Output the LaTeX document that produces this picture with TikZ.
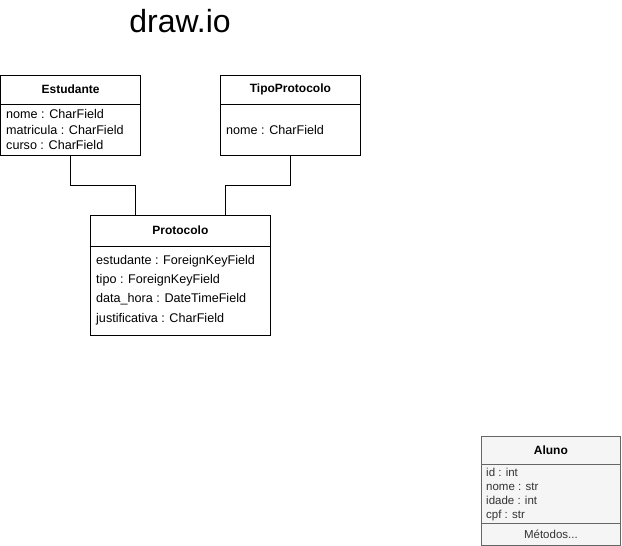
\documentclass[tikz,border=0pt]{standalone}
\usepackage{fontspec}
\setmainfont{Liberation Sans}
\usepackage{tikz}
\usetikzlibrary{positioning}
\definecolor{alunofill}{HTML}{F5F5F5}
\definecolor{alunoline}{HTML}{666666}
\definecolor{alunotext}{HTML}{333333}

\begin{document}
\begin{tikzpicture}[
		x=1pt, y=-1pt
		,every node/.append style={inner sep=0pt}
		,cls/.style={draw, line width=.8pt, anchor=north west, minimum width=#1}
		,ttl/.style={font=\fontsize{12}{14}\bfseries}
		,fld/.style={anchor=west, align=left, font=\fontsize{12.6}{#1}\selectfont}
		,sep/.style={line width=.8pt}
		,gray/.style={fill=alunofill, draw=alunoline, text=alunotext}
	]
		\useasboundingbox (0,0) rectangle (622,546);
		\node [font=\fontsize{32}{36}\selectfont] (title) at (180,21) {draw.io};
		% Estudante
		\node [cls=139.5pt, minimum height=80pt] (est) at (0.5,75) {};
		\node [ttl] (estT) at (est.north |- 0,89.5) {Estudante};
		\draw [sep] (est.west |- 0,104) -- (est.east |- 0,104);
		\node [fld=15.5] (estF) at (6,129.5) {nome : CharField\\matricula : CharField\\curso : CharField};
		% TipoProtocolo
		\node [cls=140pt, minimum height=80pt] (tipo) at (220,75) {};
		\node [ttl] (tipoT) at (tipo.north |- 0,89.5) {TipoProtocolo};
		\draw [sep] (tipo.west |- 0,104) -- (tipo.east |- 0,104);
		\node [fld=15.5] (tipoF) at (226,130) {nome : CharField};
		% Protocolo
		\node [cls=180pt, minimum height=120pt] (prot) at (90,215) {};
		\node [ttl] (protT) at (prot.north |- 0,230) {Protocolo};
		\draw [sep] (prot.west |- 0,246) -- (prot.east |- 0,246);
		\node [fld=19.4] (protF) at (96,290) {estudante : ForeignKeyField\\tipo : ForeignKeyField\\data\_hora : DateTimeField\\justificativa : CharField};
		% Aluno
		\node [cls=139pt, minimum height=109pt, gray] (aluno) at (481,436) {};
		\node [ttl, text=black] (alunoT) at (aluno.north |- 0,450) {Aluno};
		\draw [sep, alunoline] (aluno.west |- 0,464) -- (aluno.east |- 0,464);
		\node [fld=14, font=\fontsize{11.5}{14}\selectfont, text=alunotext] (alunoF) at (486,495) {id : int\\nome : str\\idade : int\\cpf : str};
		\draw [sep, alunoline] (aluno.west |- 0,523) -- (aluno.east |- 0,523);
		\node [font=\fontsize{11.5}{14}\selectfont, text=alunotext] (alunoM) at (aluno.south |- 0,534) {Métodos...};
		% ligacoes
		\draw [sep] (est.south) -- ++(0,30) -| ([xshift=-45pt]prot.north);
		\draw [sep] (tipo.south) -- ++(0,30) -| ([xshift=45pt]prot.north);
	\end{tikzpicture}
\end{document}
